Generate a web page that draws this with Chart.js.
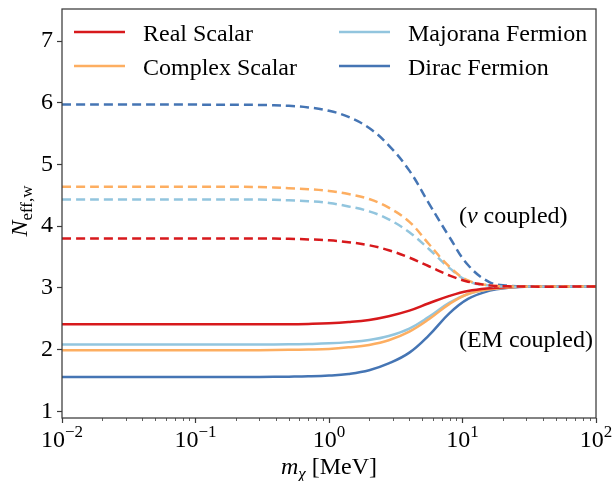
<!DOCTYPE html>
<html>
<head>
<meta charset="utf-8">
<script src="https://cdn.jsdelivr.net/npm/chart.js@4.4.1/dist/chart.umd.min.js"></script>
<style>
  body { margin: 0; background: #fff; }
  #wrap { width: 614px; height: 481px; }
</style>
</head>
<body>
<div id="wrap"><canvas id="neff" width="614" height="481"></canvas></div>
<script>
// dark matter mass in MeV
const masses = [0.01, 0.03, 0.1, 0.3, 0.5, 0.7, 1, 1.4, 2, 2.8, 4, 5.6, 8, 11, 16, 22, 32, 100];

// EM coupled (solid)
const realEM     = [2.41, 2.41, 2.41, 2.41, 2.41, 2.415, 2.425, 2.445, 2.48, 2.54, 2.63, 2.75, 2.87, 2.95, 2.995, 3.012, 3.02, 3.02];
const complexEM  = [1.99, 1.99, 1.99, 1.99, 1.995, 2.0, 2.01, 2.035, 2.075, 2.15, 2.29, 2.49, 2.74, 2.9, 2.975, 3.005, 3.02, 3.02];
const majoranaEM = [2.08, 2.08, 2.08, 2.08, 2.085, 2.09, 2.1, 2.12, 2.155, 2.22, 2.34, 2.53, 2.76, 2.9, 2.98, 3.01, 3.02, 3.02];
const diracEM    = [1.555, 1.555, 1.555, 1.555, 1.56, 1.565, 1.578, 1.605, 1.665, 1.775, 1.95, 2.23, 2.59, 2.82, 2.955, 3.0, 3.02, 3.02];

// neutrino coupled (dashed)
const realNu     = [3.8, 3.8, 3.8, 3.8, 3.795, 3.785, 3.77, 3.74, 3.69, 3.61, 3.49, 3.35, 3.2, 3.1, 3.04, 3.025, 3.02, 3.02];
const complexNu  = [4.64, 4.64, 4.64, 4.635, 4.615, 4.6, 4.57, 4.52, 4.44, 4.3, 4.07, 3.71, 3.34, 3.12, 3.04, 3.022, 3.02, 3.02];
const majoranaNu = [4.43, 4.43, 4.43, 4.43, 4.42, 4.405, 4.375, 4.32, 4.24, 4.11, 3.9, 3.63, 3.32, 3.11, 3.035, 3.02, 3.02, 3.02];
const diracNu    = [5.97, 5.97, 5.97, 5.965, 5.95, 5.925, 5.87, 5.77, 5.59, 5.31, 4.9, 4.37, 3.82, 3.37, 3.09, 3.035, 3.02, 3.02];

const species = ['Real Scalar', 'Complex Scalar', 'Majorana Fermion', 'Dirac Fermion'];
const colors  = ['#d7191c', '#fdae61', '#92c5de', '#4575b4'];
const xTicks  = [0.01, 0.1, 1, 10, 100];
const xExps   = ['\u22122', '\u22121', '0', '1', '2'];
const yTicks  = [1, 2, 3, 4, 5, 6, 7];

const SERIF = "'Liberation Serif', serif";

function pts(ys) {
    return masses.map((m, i) => ({x: m, y: ys[i]}));
}

const emSets = [realEM, complexEM, majoranaEM, diracEM];
const nuSets = [realNu, complexNu, majoranaNu, diracNu];

const datasets = [];
species.forEach((name, i) => {
    datasets.push({
        label: name + ' (nu)',
        data: pts(nuSets[i]),
        borderColor: colors[i],
        borderWidth: 2.5,
        borderDash: [9, 5],
        pointRadius: 0,
        tension: 0.4
    });
});
species.forEach((name, i) => {
    datasets.push({
        label: name,
        data: pts(emSets[i]),
        borderColor: colors[i],
        borderWidth: 2.5,
        pointRadius: 0,
        tension: 0.4
    });
});

// draw a run of text pieces (font changes, sub/superscripts)
function drawRuns(ctx, runs, x, y, align) {
    let total = 0;
    runs.forEach(r => { ctx.font = r.font; total += ctx.measureText(r.t).width; });
    let cx = align === 'center' ? x - total / 2 : x;
    runs.forEach(r => {
        ctx.font = r.font;
        ctx.fillText(r.t, cx, y + (r.dy || 0));
        cx += ctx.measureText(r.t).width;
    });
}

const decorations = {
    id: 'decorations',
    afterDraw(chart) {
        const {ctx, chartArea: a, scales: {x, y}} = chart;
        ctx.save();

        // frame
        ctx.strokeStyle = '#3a3a3a';
        ctx.lineWidth = 1.25;
        ctx.strokeRect(a.left, a.top, a.right - a.left, a.bottom - a.top);

        // minor ticks on log axis
        ctx.lineWidth = 0.8;
        for (let d = -2; d < 2; d++) {
            for (let k = 2; k <= 9; k++) {
                const px = Math.round(x.getPixelForValue(k * Math.pow(10, d))) + 0.5;
                ctx.beginPath();
                ctx.moveTo(px, a.bottom);
                ctx.lineTo(px, a.bottom + 3);
                ctx.stroke();
            }
        }

        ctx.fillStyle = '#000';
        ctx.textBaseline = 'alphabetic';

        // x tick labels 10^n
        xTicks.forEach((v, i) => {
            drawRuns(ctx, [
                {t: '10', font: '24px ' + SERIF},
                {t: xExps[i], font: '17px ' + SERIF, dy: -10}
            ], x.getPixelForValue(v), 447, 'center');
        });

        // x title
        drawRuns(ctx, [
            {t: 'm', font: 'italic 24px ' + SERIF},
            {t: '\u03c7', font: 'italic 17px ' + SERIF, dy: 5},
            {t: ' [MeV]', font: '24px ' + SERIF}
        ], (a.left + a.right) / 2, 474, 'center');

        // y title
        ctx.save();
        ctx.translate(27, 211);
        ctx.rotate(-Math.PI / 2);
        drawRuns(ctx, [
            {t: 'N', font: 'italic 24px ' + SERIF},
            {t: 'eff,w', font: '17px ' + SERIF, dy: 5}
        ], 0, 0, 'center');
        ctx.restore();

        // annotations
        const ax = x.getPixelForValue(9.4);
        drawRuns(ctx, [
            {t: '(', font: '24px ' + SERIF},
            {t: '\u03bd', font: 'italic 24px ' + SERIF},
            {t: ' coupled)', font: '24px ' + SERIF}
        ], ax, y.getPixelForValue(4.05), 'left');
        drawRuns(ctx, [
            {t: '(EM coupled)', font: '24px ' + SERIF}
        ], ax, y.getPixelForValue(2.04), 'left');

        // legend, two columns
        const cols = [74, 339];
        const rows = [32, 66];
        species.forEach((name, i) => {
            const cx = cols[Math.floor(i / 2)];
            const cy = rows[i % 2];
            ctx.strokeStyle = colors[i];
            ctx.lineWidth = 2.5;
            ctx.beginPath();
            ctx.moveTo(cx, cy);
            ctx.lineTo(cx + 51, cy);
            ctx.stroke();
            ctx.font = '24px ' + SERIF;
            ctx.fillText(name, cx + 69, cy + 8.5);
        });

        ctx.restore();
    }
};

new Chart(document.getElementById('neff'), {
    type: 'line',
    data: {datasets: datasets},
    options: {
        responsive: false,
        animation: false,
        layout: {padding: {top: 9, right: 18, bottom: 0, left: 0}},
        plugins: {
            legend: {display: false},
            tooltip: {enabled: false}
        },
        scales: {
            x: {
                type: 'logarithmic',
                min: 0.01,
                max: 100,
                afterBuildTicks: s => { s.ticks = xTicks.map(v => ({value: v})); },
                afterFit: s => { s.height = 63; s.paddingLeft = 0; s.paddingRight = 0; },
                grid: {drawOnChartArea: false, drawTicks: true, tickLength: 5, tickColor: '#3a3a3a', tickWidth: 1.2},
                border: {display: false},
                ticks: {display: false}
            },
            y: {
                min: 0.89,
                max: 7.52,
                afterBuildTicks: s => { s.ticks = yTicks.map(v => ({value: v})); },
                afterFit: s => { s.width = 62; s.paddingTop = 0; s.paddingBottom = 0; },
                grid: {drawOnChartArea: false, drawTicks: true, tickLength: 5, tickColor: '#3a3a3a', tickWidth: 1.2},
                border: {display: false},
                ticks: {
                    color: '#000',
                    padding: 4,
                    font: {family: 'Liberation Serif', size: 24}
                }
            }
        }
    },
    plugins: [decorations]
});
</script>
</body>
</html>
